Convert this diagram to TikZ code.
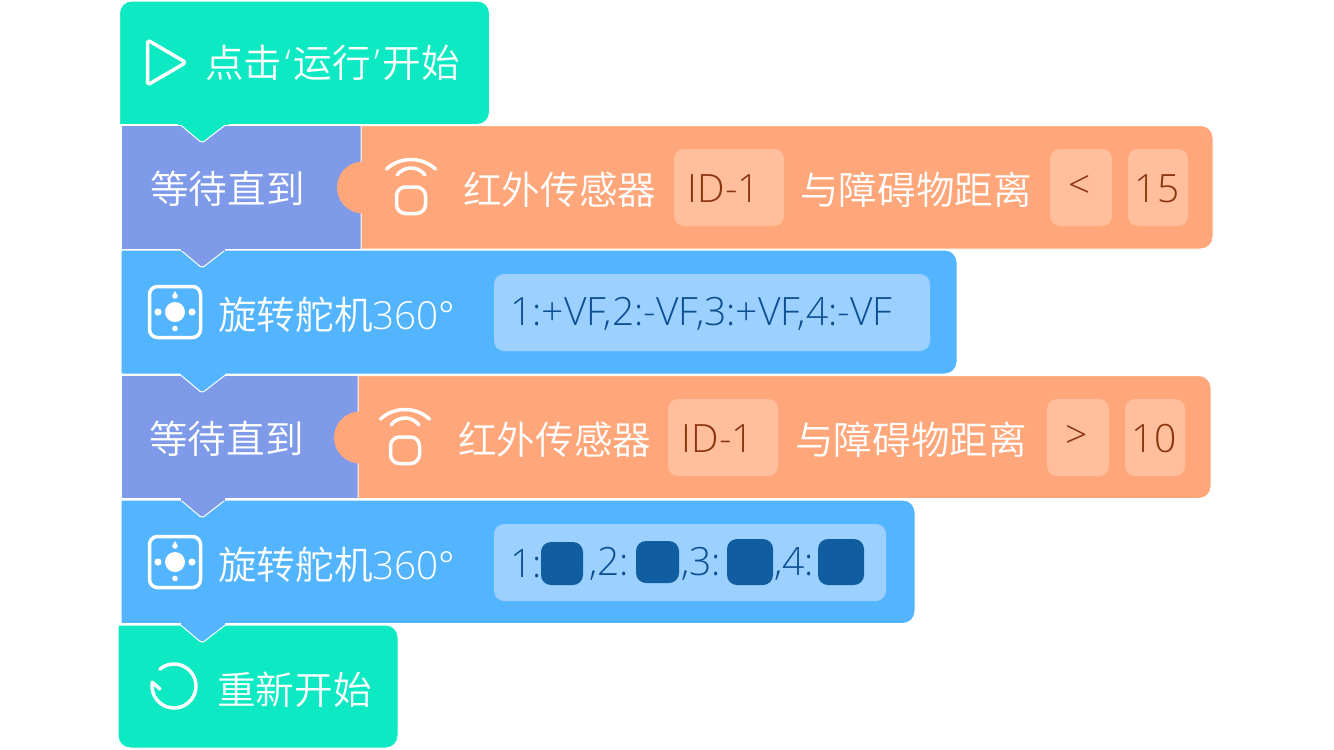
\documentclass[tikz,border=0pt]{standalone}
\usepackage{fontspec}
\setmainfont{Open Sans Light}
\newfontfamily\latinw{Open Sans Light}
\newfontfamily\quotef{Open Sans Light}
\newfontfamily\cjk{Noto Sans CJK SC DemiLight}
\definecolor{mint}{HTML}{0DE9C2}
\definecolor{purp}{HTML}{7E9AE9}
\definecolor{oran}{HTML}{FFA77A}
\definecolor{oranl}{HTML}{FFBE9C}
\definecolor{sky}{HTML}{53B4FF}
\definecolor{skyl}{HTML}{9BD0FF}
\definecolor{navy}{HTML}{0B4F92}
\definecolor{rust}{HTML}{8C3410}
\definecolor{dot}{HTML}{105E9F}
\tikzset{
  x=1pt,y=-1pt,
  edge/.style={draw=white,line width=1pt,line join=round},
  wtxt/.style={text=white,font=\cjk\fontsize{38.6}{38.6}\selectfont,inner sep=0pt,anchor=west},
  otxt/.style={text=rust,font=\fontsize{39}{39}\selectfont,inner sep=0pt},
  btxt/.style={text=navy,font=\fontsize{39}{39}\selectfont,inner sep=0pt,anchor=west},
  icon/.style={draw=white,line width=3.5pt,line join=round,line cap=round},
  field/.style={rounded corners=10pt},
  dotbox/.style={fill=dot,rounded corners=10pt},
}
\newcommand{\notch}[2]{(#1+59,#2) [rounded corners=2pt] -- (#1+81,#2+18.5) [sharp corners] -- (#1+105,#2)}
\newcommand{\sensor}[2]{%
  \begin{scope}[shift={(#1,#2)}]
    \draw[icon,rounded corners=9pt] (-14.5,0) rectangle (14.5,26.5);
    \draw[icon] (0,-19) ++(-143:17.5) ++(-90:-17.5) arc[start angle=-143,end angle=-37,radius=17.5];
    \draw[icon] (0,-27.5) ++(-132.5:36.3) ++(-90:-36.3) arc[start angle=-132.5,end angle=-47.5,radius=36.3];
  \end{scope}}
\newcommand{\servo}[2]{%
  \begin{scope}[shift={(#1,#2)}]
    \draw[icon,rounded corners=8pt] (-25.5,-25.5) rectangle (25.5,25.5);
    \fill[white] (0,0) circle (10);
    \fill[white] (-17,0) circle (3.6) (17,0) circle (3.6) (0,16.5) circle (2.8);
    \fill[white] (0,-21) -- (2.8,-16) arc[start angle=0,end angle=180,radius=2.8] -- cycle;
  \end{scope}}
\begin{document}
\begin{tikzpicture}
\useasboundingbox (0,0) rectangle (1334,750);
% start block
\path[fill=mint,edge] (119.5,124.5) [rounded corners=12pt] -- (119.5,1) -- (489.5,1) -- (489.5,124.5) [sharp corners] -- (300,124.5) -- cycle;
% wait 1
\path[fill=purp,edge] (121,125) rectangle (361,249);
\path[fill=oran,edge] (361,125.5) [rounded corners=12pt] -- (1213,125.5) -- (1213,249) [sharp corners] -- (361,249) -- cycle;
\fill[oran] (363,161.5) arc[start angle=270,end angle=90,radius=26] -- cycle;
\path[fill=mint,edge] \notch{121}{124.5};
\fill[mint] (178,123) rectangle (229,125);
% blue 1
\path[fill=sky,edge] (121,250) [rounded corners=12pt] -- (957,250) -- (957,374) [sharp corners] -- (121,374) -- cycle;
\path[fill=purp,edge] \notch{121}{249.5};
\fill[purp] (181,248) rectangle (225,250.5);
% wait 2
\path[fill=purp,edge] (121,375) rectangle (358,498.5);
\path[fill=oran,edge] (358,375.5) [rounded corners=12pt] -- (1211,375.5) -- (1211,498.5) [sharp corners] -- (358,498.5) -- cycle;
\fill[oran] (360,411.5) arc[start angle=270,end angle=90,radius=26] -- cycle;
\path[fill=sky,edge] \notch{121}{374.5};
\fill[sky] (181,373) rectangle (225,375);
% blue 2
\path[fill=sky,edge] (121,500) [rounded corners=12pt] -- (915,500) -- (915,623.5) [sharp corners] -- (121,623.5) -- cycle;
\path[fill=purp,edge] \notch{121}{499.5};
\fill[purp] (181,498) rectangle (225,500.5);
% restart
\path[fill=mint,edge] (118,625) [rounded corners=12pt] -- (398,625) -- (398,748) -- (118,748) [sharp corners] -- cycle;
\path[fill=sky,edge] \notch{121}{624.5};
\fill[sky] (181,623) rectangle (225,625);
% fields
\fill[oranl,field] (674,149) rectangle (784,226);
\fill[oranl,field] (1050,149) rectangle (1112,226);
\fill[oranl,field] (1128,149) rectangle (1188,226);
\fill[oranl,field] (668,399) rectangle (778,476);
\fill[oranl,field] (1047,399) rectangle (1109,476);
\fill[oranl,field] (1125,399) rectangle (1185,476);
\fill[skyl,field] (494,274) rectangle (930,351);
\fill[skyl,field] (494,524) rectangle (886,601);
\fill[dotbox] (541,542) rectangle (583,585);
\fill[dotbox] (636,541) rectangle (679,583);
\fill[dotbox] (727,539) rectangle (773,585);
\fill[dotbox] (818,539) rectangle (864,585);
% icons
\draw[icon,rounded corners=3pt] (147.5,40) -- (147.5,85) -- (186,62.5) -- cycle;
\sensor{411}{187}
\sensor{405}{437}
\servo{175}{312}
\servo{175}{562}
\draw[icon] (174,686) ++(-130:22) arc[start angle=-130,end angle=188,radius=22];
\draw[icon] (152,682) -- (160,689);
% labels
\node[wtxt] (t1) at (205,63) {点击\kern3pt{\quotef ‘}\kern3pt运行\kern3pt{\quotef ’}\kern3pt开始};
\node[wtxt] (t2) at (150,189) {等待直到};
\node[wtxt] (t3) at (463,190) {红外传感器};
\node[otxt] (a1) at (724,189) {ID-1};
\node[wtxt] (t4) at (800,190) {与障碍物距离};
\node[otxt] (a2) at (1080,187) {<};
\node[otxt] (a3) at (1157,189) {15};
\node[wtxt] (t5) at (218,315) {旋转舵机{\latinw 360°}};
\node[btxt] (b1) at (510,314) {1:+VF,2:-VF,3:+VF,4:-VF};
\node[wtxt] (t6) at (149,439) {等待直到};
\node[wtxt] (t7) at (458,440) {红外传感器};
\node[otxt] (a4) at (718,439) {ID-1};
\node[wtxt] (t8) at (795,440) {与障碍物距离};
\node[otxt] (a5) at (1077,437) {>};
\node[otxt] (a6) at (1154,439) {10};
\node[wtxt] (t9) at (218,565) {旋转舵机{\latinw 360°}};
\node[btxt] (b2) at (510,564) {1:};
\node[btxt] (b3) at (589,564) {,2:};
\node[btxt] (b4) at (681,564) {,3:};
\node[btxt] (b5) at (774,564) {,4:};
\node[wtxt] (t10) at (217,690) {重新开始};
\end{tikzpicture}
\end{document}
